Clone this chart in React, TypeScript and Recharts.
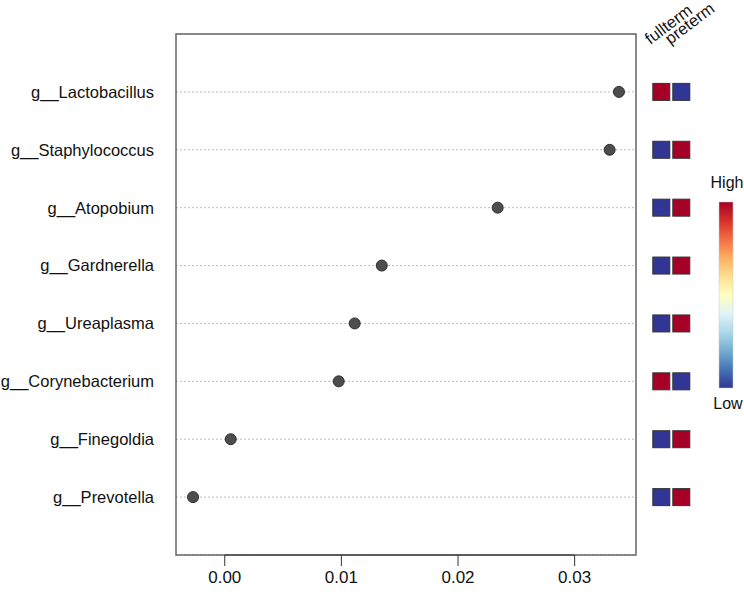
import { CartesianGrid, ReferenceArea, ReferenceLine, Scatter, ScatterChart, XAxis, YAxis } from 'recharts';

// top to bottom, as drawn
const genera = [
  'g__Lactobacillus',
  'g__Staphylococcus',
  'g__Atopobium',
  'g__Gardnerella',
  'g__Ureaplasma',
  'g__Corynebacterium',
  'g__Finegoldia',
  'g__Prevotella',
];
const importance = [0.0338, 0.033, 0.0234, 0.01346, 0.01114, 0.00977, 0.00051, -0.00272];
const groups = ['fullterm', 'preterm'];
// relative abundance per group, scaled 0 (low) .. 1 (high)
const fulltermLevel = [1, 0, 0, 0, 0, 1, 0, 0];
const pretermLevel = [0, 1, 1, 1, 1, 0, 1, 1];
const xTicks = [0, 0.01, 0.02, 0.03];

// RdYlBu, high -> low
const palette = ['#a50026', '#d73027', '#f46d43', '#fdae61', '#fee090', '#ffffbf', '#e0f3f8', '#abd9e9', '#74add1', '#4575b4', '#313695'];
const levelColour = (t: number) => palette[Math.round((1 - t) * (palette.length - 1))];

const FONT = '"Liberation Sans", Arial, sans-serif';
const TEXT = '#111';

const n = genera.length;
const dots = genera.map((genus, i) => ({ genus, rank: n - i, value: importance[i] }));
const heat = genera.flatMap((genus, i) => [
  { genus, rank: n - i, group: groups[0], level: fulltermLevel[i] },
  { genus, rank: n - i, group: groups[1], level: pretermLevel[i] },
]);

const lo = Math.min(...importance);
const hi = Math.max(...importance);
const pad = (hi - lo) * 0.04;
const xDomain: [number, number] = [lo - pad, hi + pad];
const yDomain: [number, number] = [0, n + 1];

const Dot = (props: any) => (
  <circle cx={props.cx} cy={props.cy} r={5.5} fill="#4d4d4d" stroke="#2e2e2e" strokeWidth={1} />
);

const HeatCell = (props: any) => (
  <rect
    x={props.cx - 8.5}
    y={props.cy - 8.5}
    width={17}
    height={17}
    fill={levelColour(props.payload.level)}
    stroke="#333"
    strokeWidth={1}
  />
);

// column labels sit slanted above the heat columns
const HeaderTick = ({ x, y, payload }: any) => {
  const tx = x - 11;
  const ty = y + 11;
  return (
    <text x={tx} y={ty} transform={`rotate(-37 ${tx} ${ty})`} textAnchor="start" fontSize={16.5} fontFamily={FONT} fill={TEXT}>
      {payload.value}
    </text>
  );
};

const ColourBar = () => (
  <svg width={44} height={250} style={{ position: 'absolute', left: 700, top: 170 }}>
    <defs>
      <linearGradient id="rdylbu" x1="0" x2="0" y1="0" y2="1">
        {palette.map((c, i) => (
          <stop key={c} offset={`${(i / (palette.length - 1)) * 100}%`} stopColor={c} />
        ))}
      </linearGradient>
    </defs>
    <rect x={19} y={32} width={14} height={186} fill="url(#rdylbu)" stroke="#ccc" strokeWidth={0.5} />
    <text x={27} y={18} textAnchor="middle" fontSize={16} fontFamily={FONT} fill={TEXT}>High</text>
    <text x={28} y={239} textAnchor="middle" fontSize={16} fontFamily={FONT} fill={TEXT}>Low</text>
  </svg>
);

export default function App() {
  return (
    <div style={{ position: 'absolute', left: 0, top: 0, width: 744, height: 599, background: '#fff' }}>
      <div style={{ position: 'absolute', left: 0, top: 0 }}>
        <ScatterChart width={744} height={599} margin={{ top: 34, right: 108, bottom: 0, left: 0 }}>
          <CartesianGrid vertical={false} stroke="#bdbdbd" strokeDasharray="2 2" />
          <XAxis
            type="number"
            dataKey="value"
            domain={xDomain}
            ticks={xTicks}
            tickFormatter={(v: number) => v.toFixed(2)}
            height={44}
            axisLine={false}
            tickSize={11}
            tickMargin={5}
            tickLine={{ stroke: '#333' }}
            tick={{ fontSize: 17, fontFamily: FONT, fill: TEXT }}
          />
          <YAxis
            type="number"
            dataKey="rank"
            domain={yDomain}
            ticks={dots.map((d) => d.rank)}
            tickFormatter={(r: number) => genera[n - r]}
            width={176}
            axisLine={false}
            tickLine={false}
            tickSize={0}
            tickMargin={22}
            tick={{ fontSize: 16.5, fontFamily: FONT, fill: TEXT }}
          />
          <ReferenceArea x1={xDomain[0]} x2={xDomain[1]} y1={yDomain[0]} y2={yDomain[1]} fill="none" stroke="#666" strokeWidth={1.5} />
          <ReferenceLine
            segment={[{ x: xTicks[0], y: 0 }, { x: xTicks[xTicks.length - 1], y: 0 }]}
            stroke="#333"
            strokeWidth={1}
          />
          <Scatter data={dots} shape={<Dot />} isAnimationActive={false} />
        </ScatterChart>
      </div>
      <div style={{ position: 'absolute', left: 640, top: 0 }}>
        <ScatterChart width={104} height={599} margin={{ top: 0, right: 52.7, bottom: 44, left: 11.3 }}>
          <XAxis
            type="category"
            dataKey="group"
            orientation="top"
            allowDuplicatedCategory={false}
            height={34}
            axisLine={false}
            tickLine={false}
            tickSize={0}
            tickMargin={0}
            interval={0}
            tick={<HeaderTick />}
          />
          <YAxis type="number" dataKey="rank" domain={yDomain} hide />
          <Scatter data={heat} shape={<HeatCell />} isAnimationActive={false} />
        </ScatterChart>
      </div>
      <ColourBar />
    </div>
  );
}
